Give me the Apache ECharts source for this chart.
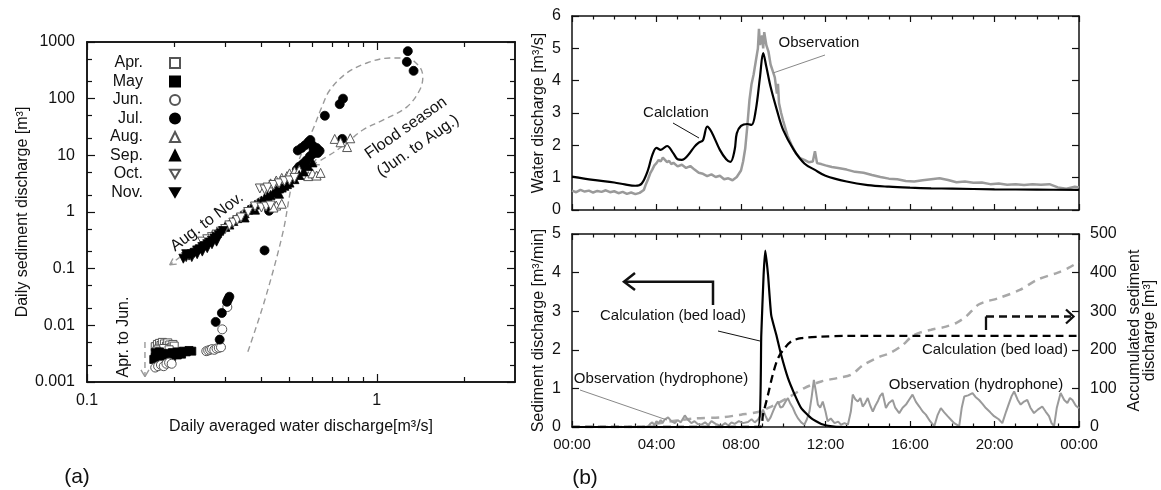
<!DOCTYPE html>
<html><head><meta charset="utf-8">
<script src="https://cdn.jsdelivr.net/npm/echarts@6/dist/echarts.min.js"></script>
<style>html,body{margin:0;padding:0;background:#fff}#c{width:1161px;height:490px}</style>
</head><body><div id="c"></div>
<script>
// ---------- Panel (a): daily sediment vs water discharge ----------
const monthNames = ['Apr.','May','Jun.','Jul.','Aug.','Sep.','Oct.','Nov.'];
const aprPoints = [[0.172,0.0042],[0.175,0.0046],[0.178,0.0048],[0.18,0.0044],[0.182,0.005],[0.185,0.0047],[0.188,0.0043],[0.19,0.0049],[0.193,0.0045],[0.196,0.0041],[0.198,0.0046],[0.2,0.0043],[0.176,0.0038],[0.184,0.0039],[0.192,0.0037],[0.174,0.0035]];
const mayPoints = [[0.17,0.0025],[0.172,0.0027],[0.175,0.0026],[0.177,0.003],[0.18,0.0028],[0.183,0.0031],[0.186,0.0029],[0.19,0.0032],[0.193,0.003],[0.197,0.0033],[0.2,0.0031],[0.205,0.0034],[0.21,0.0032],[0.215,0.0035],[0.22,0.0034],[0.225,0.0036],[0.23,0.0035],[0.174,0.0023],[0.18,0.0024],[0.188,0.0026],[0.196,0.0028],[0.205,0.003],[0.212,0.0031],[0.172,0.0033],[0.178,0.0034]];
const junPoints = [[0.172,0.0018],[0.176,0.0019],[0.18,0.002],[0.184,0.0019],[0.188,0.0021],[0.192,0.0022],[0.196,0.0021],[0.258,0.0035],[0.262,0.0036],[0.266,0.0037],[0.27,0.0038],[0.275,0.0037],[0.28,0.0039],[0.285,0.004],[0.29,0.0041],[0.293,0.0085],[0.305,0.021]];
const julPoints = [[0.278,0.0115],[0.287,0.0056],[0.292,0.0165],[0.304,0.026],[0.31,0.032],[0.307,0.029],[0.41,0.21],[0.425,1.05],[0.662,50],[0.745,80],[0.765,100],[0.76,19.5],[1.28,690],[1.27,445],[1.34,310],[0.534,12.2],[0.55,13.5],[0.565,15],[0.58,17],[0.59,18.6],[0.6,15],[0.605,13],[0.62,13.5],[0.635,12],[0.625,11],[0.6,10.5],[0.587,9.5],[0.57,8],[0.555,7],[0.54,6.3],[0.53,5.6]];
const augPoints = [[0.27,0.38],[0.28,0.42],[0.3,0.55],[0.32,0.7],[0.43,3.2],[0.45,3.6],[0.47,4.0],[0.49,4.3],[0.5,4.8],[0.52,5.2],[0.54,5.5],[0.56,4.6],[0.58,4.3],[0.6,4.8],[0.62,4.4],[0.64,4.9],[0.716,19.5],[0.75,17],[0.79,14],[0.81,20],[0.45,1.3],[0.47,1.4],[0.44,1.2]];
const sepPoints = [[0.3,0.55],[0.31,0.6],[0.32,0.7],[0.33,0.78],[0.34,0.85],[0.35,0.95],[0.36,1.1],[0.37,1.2],[0.38,1.35],[0.39,1.45],[0.4,1.6],[0.41,1.75],[0.42,1.9],[0.43,2.0],[0.44,2.2],[0.45,2.4],[0.46,2.6],[0.47,2.7],[0.48,2.9],[0.49,3.1],[0.5,3.3],[0.52,3.8],[0.54,4.5],[0.56,5.2],[0.58,6.5],[0.6,7.5],[0.35,0.8],[0.38,1.1],[0.42,1.5],[0.46,2.1]];
const octPoints = [[0.25,0.3],[0.26,0.33],[0.27,0.36],[0.28,0.4],[0.29,0.45],[0.3,0.5],[0.31,0.58],[0.32,0.65],[0.33,0.72],[0.34,0.8],[0.36,1.0],[0.38,1.25],[0.4,1.2],[0.415,1.25],[0.43,1.3],[0.395,2.6],[0.41,2.5],[0.42,2.7],[0.44,3.0],[0.46,3.2],[0.48,3.5],[0.5,3.6],[0.52,4.0]];
const novPoints = [[0.215,0.15],[0.22,0.16],[0.225,0.17],[0.23,0.18],[0.235,0.19],[0.24,0.21],[0.245,0.22],[0.25,0.24],[0.255,0.25],[0.26,0.27],[0.265,0.29],[0.27,0.31],[0.275,0.34],[0.28,0.36],[0.285,0.39],[0.29,0.42],[0.295,0.46],[0.22,0.18],[0.23,0.16],[0.24,0.18],[0.25,0.2],[0.26,0.23],[0.27,0.27],[0.28,0.3]];
// annotation paths (data coords)
const floodLoopPath = [[0.359,0.00341],[0.411,0.0282],[0.474,0.428],[0.513,3.68],[0.556,12.4],[0.601,28],[0.646,71],[0.689,142],[0.788,284],[0.924,426],[1.109,522],[1.269,522],[1.407,362],[1.442,241],[1.407,142],[1.269,71],[1.05,42],[0.895,28],[0.788,16.6],[0.705,11],[0.601,6.8]];
const floodArrowHead = [[0.636,6.8],[0.601,6.8],[0.618,8.6]];
const augNovPath = [[0.513,4.9],[0.193,0.117]];
const augNovArrowHead = [[0.204,0.1205],[0.193,0.117],[0.198,0.151]];
const aprJunPath = [[0.1585,0.0051],[0.1585,0.00124]];
const aprJunArrowHead = [[0.1535,0.00164],[0.1585,0.00124],[0.1636,0.00164]];
const xLogLabels = [0.1, 1];
const xLogMinor = [0.2,0.3,0.4,0.5,0.6,0.7,0.8,0.9,2];
const yLogLabels = [0.001,0.01,0.1,1,10,100,1000];
const yLogMinor = [0.002,0.005,0.02,0.05,0.2,0.5,2,5,20,50,200,500];

// ---------- Panel (b) ----------
const waterCalc = [[0,1.03],[1,0.93],[2,0.85],[2.5,0.79],[3,0.75],[3.3,0.82],[3.6,1.24],[3.8,1.70],[4.0,1.92],[4.2,1.86],[4.5,1.98],[4.8,1.75],[5.0,1.57],[5.2,1.55],[5.5,1.70],[5.8,1.96],[6.0,2.08],[6.2,2.16],[6.4,2.58],[6.6,2.42],[7.0,1.86],[7.3,1.57],[7.5,1.49],[7.7,1.86],[7.8,2.37],[8.0,2.60],[8.3,2.66],[8.5,2.63],[8.7,3.09],[8.9,4.12],[9.05,4.85],[9.2,4.43],[9.4,3.81],[9.7,3.09],[10.0,2.47],[10.5,1.86],[11.0,1.44],[11.5,1.24],[12,1.06],[13,0.88],[14,0.77],[15,0.72],[16,0.69],[17,0.67],[18,0.66],[20,0.64],[22,0.63],[24,0.62]];
const waterObs = [[0,0.60],[0.2,0.55],[0.4,0.62],[0.6,0.57],[0.8,0.60],[1.0,0.54],[1.2,0.59],[1.4,0.56],[1.6,0.61],[1.8,0.55],[2.0,0.58],[2.2,0.52],[2.4,0.56],[2.6,0.50],[2.8,0.54],[3.0,0.49],[3.2,0.53],[3.4,0.62],[3.5,0.80],[3.6,0.95],[3.7,1.13],[3.8,1.25],[3.9,1.38],[4.0,1.45],[4.1,1.55],[4.2,1.50],[4.3,1.62],[4.4,1.55],[4.5,1.48],[4.6,1.52],[4.7,1.42],[4.8,1.46],[5.0,1.35],[5.2,1.40],[5.4,1.30],[5.6,1.36],[5.8,1.25],[6.0,1.15],[6.2,1.12],[6.4,1.05],[6.6,1.10],[6.8,1.02],[7.0,1.06],[7.2,0.95],[7.4,0.98],[7.6,0.92],[7.8,1.02],[8.0,1.22],[8.1,1.5],[8.2,1.9],[8.3,2.6],[8.4,3.4],[8.5,3.9],[8.6,4.2],[8.7,4.6],[8.8,5.0],[8.85,5.6],[8.9,5.1],[9.0,5.4],[9.05,5.0],[9.1,5.5],[9.2,5.1],[9.3,4.9],[9.4,4.5],[9.5,4.3],[9.6,4.1],[9.7,3.6],[9.75,3.9],[9.8,3.3],[9.9,3.0],[10.0,2.75],[10.2,2.3],[10.4,2.0],[10.6,1.75],[10.8,1.6],[11.0,1.55],[11.2,1.48],[11.4,1.5],[11.5,1.82],[11.6,1.45],[11.8,1.42],[12.0,1.38],[12.3,1.33],[12.6,1.30],[13.0,1.25],[13.4,1.18],[13.8,1.15],[14.2,1.08],[14.6,1.02],[15.0,0.97],[15.4,0.95],[15.8,0.90],[16.2,0.88],[16.6,0.92],[17.0,0.95],[17.4,0.98],[17.8,0.93],[18.2,0.86],[18.6,0.88],[19.0,0.84],[19.4,0.85],[19.8,0.80],[20.2,0.82],[20.6,0.78],[21.0,0.80],[21.4,0.77],[21.8,0.80],[22.2,0.78],[22.6,0.80],[23.0,0.70],[23.4,0.66],[23.8,0.72],[24.0,0.70]];
const bedLoadCalc = [[0,0],[8.8,0],[8.96,2.39],[9.07,3.94],[9.15,4.57],[9.28,3.94],[9.43,2.9],[9.67,2.39],[9.9,1.87],[10.22,1.27],[10.54,0.84],[10.85,0.49],[11.32,0.23],[11.8,0.08],[12.4,0.01],[13,0],[24,0]];
const hydrophoneObs = [[0,0],[3.6,0],[3.7,0.08],[3.8,0.12],[3.9,0.05],[4.0,0.15],[4.1,0.1],[4.2,0.18],[4.3,0.12],[4.4,0.2],[4.55,0.25],[4.7,0.15],[4.87,0.1],[5.0,0.18],[5.15,0.12],[5.34,0.3],[5.5,0.18],[5.65,0.1],[5.8,0.15],[5.95,0.08],[6.13,0.06],[6.3,0.12],[6.45,0.05],[6.6,0.15],[6.8,0.08],[7.07,0.03],[7.25,0.1],[7.4,0.04],[7.55,0.12],[7.7,0.08],[7.9,0.15],[8.1,0.1],[8.33,0.13],[8.5,0.2],[8.65,0.12],[8.8,0.19],[8.92,0.3],[9.04,0.45],[9.15,0.3],[9.28,0.15],[9.4,0.25],[9.51,0.4],[9.63,0.55],[9.75,0.66],[9.87,0.5],[9.98,0.53],[10.1,0.65],[10.22,0.75],[10.34,0.6],[10.46,0.49],[10.57,0.35],[10.69,0.23],[10.85,0.12],[11.0,0.06],[11.12,0.2],[11.24,0.4],[11.35,0.8],[11.45,1.22],[11.55,0.9],[11.64,0.58],[11.75,0.5],[11.87,0.66],[12.0,0.4],[12.1,0.15],[12.25,0.22],[12.43,0.1],[12.6,0.14],[12.74,0.06],[12.9,0.1],[13.06,0.06],[13.2,0.4],[13.29,0.84],[13.41,0.72],[13.53,0.66],[13.65,0.75],[13.76,0.53],[13.88,0.62],[14.0,0.75],[14.12,0.55],[14.24,0.4],[14.36,0.55],[14.47,0.66],[14.58,0.8],[14.7,0.88],[14.86,0.49],[15.0,0.62],[15.18,0.7],[15.3,0.5],[15.49,0.36],[15.65,0.5],[15.81,0.58],[15.95,0.7],[16.12,0.84],[16.28,0.65],[16.44,0.53],[16.6,0.4],[16.75,0.32],[16.95,0.15],[17.15,0.02],[17.3,0.3],[17.46,0.49],[17.62,0.38],[17.78,0.28],[17.95,0.18],[18.09,0.1],[18.33,0.02],[18.45,0.5],[18.57,0.79],[18.75,0.82],[18.96,0.88],[19.1,0.78],[19.27,0.7],[19.43,0.6],[19.59,0.49],[19.8,0.38],[19.98,0.28],[20.2,0.2],[20.37,0.1],[20.55,0.4],[20.69,0.62],[20.81,0.8],[20.93,0.92],[21.1,0.7],[21.24,0.58],[21.4,0.66],[21.55,0.7],[21.7,0.5],[21.87,0.36],[22.05,0.45],[22.26,0.53],[22.42,0.4],[22.58,0.28],[22.7,0.1],[22.82,0.02],[22.95,0.5],[23.13,0.88],[23.3,0.7],[23.45,0.62],[23.57,0.75],[23.69,0.7],[23.85,0.55],[24,0.49]];
const accumCalc = [[0,0],[8.9,0],[9.04,32],[9.28,84],[9.5,135],[9.75,178],[10.06,204],[10.38,222],[10.85,230],[11.8,234],[13,236],[24,236]];
const accumObs = [[0,0],[3.5,0],[3.76,6],[4.7,15],[5.8,22],[7.07,25],[8.0,32],[8.8,39],[9.43,53],[10.2,75],[11.0,101],[11.8,118],[12.58,127],[13.2,135],[13.8,161],[14.6,183],[15.0,190],[15.6,210],[16.1,235],[16.5,245],[17.0,252],[17.7,260],[18.2,270],[18.65,286],[19.27,318],[20.2,334],[21.2,355],[22.0,381],[23.0,400],[23.5,412],[24,428]];

const FONT = "'Liberation Sans', Arial, sans-serif";
const BLK = '#111';
const chart = echarts.init(document.getElementById('c'), null, {renderer:'canvas'});

function logFmt(v){ return String(+Number(v).toPrecision(3)); }
function hourFmt(v){ const h = Math.round(v) % 24; return (h<10?'0':'') + h + ':00'; }

const lineAx = {show:true, onZero:false, lineStyle:{color:BLK, width:1.5}};
function logAxis(extra){ return Object.assign({type:'log', logBase:10, splitLine:{show:false}, axisLine:lineAx}, extra); }

const xAxes = [
  logAxis({gridIndex:0, position:'bottom', min:0.1, max:3,
    axisTick:{inside:true, length:8, customValues:xLogLabels, lineStyle:{color:BLK,width:1.2}},
    axisLabel:{customValues:xLogLabels, formatter:logFmt, fontSize:16, color:BLK, fontFamily:FONT, margin:11},
    name:'Daily averaged water discharge[m³/s]', nameLocation:'middle', nameGap:37,
    nameTextStyle:{fontSize:16, color:BLK, fontFamily:FONT}}),
  logAxis({gridIndex:0, position:'bottom', min:0.1, max:3,
    axisTick:{inside:true, length:5, customValues:xLogMinor, lineStyle:{color:BLK,width:1.2}}, axisLabel:{show:false}}),
  logAxis({gridIndex:0, position:'top', min:0.1, max:3,
    axisTick:{inside:true, length:8, customValues:xLogLabels, lineStyle:{color:BLK,width:1.2}}, axisLabel:{show:false}}),
  logAxis({gridIndex:0, position:'top', min:0.1, max:3,
    axisTick:{inside:true, length:5, customValues:xLogMinor, lineStyle:{color:BLK,width:1.2}}, axisLabel:{show:false}})
];
const yAxes = [
  logAxis({gridIndex:0, position:'left', min:0.001, max:1000,
    axisTick:{inside:true, length:8, customValues:yLogLabels, lineStyle:{color:BLK,width:1.2}},
    axisLabel:{customValues:yLogLabels, formatter:logFmt, fontSize:16, color:BLK, fontFamily:FONT, margin:12},
    name:'Daily sediment discharge [m³]', nameLocation:'middle', nameGap:52,
    nameTextStyle:{fontSize:16, color:BLK, fontFamily:FONT}}),
  logAxis({gridIndex:0, position:'left', min:0.001, max:1000,
    axisTick:{inside:true, length:5, customValues:yLogMinor, lineStyle:{color:BLK,width:1.2}}, axisLabel:{show:false}}),
  logAxis({gridIndex:0, position:'right', min:0.001, max:1000,
    axisTick:{inside:true, length:8, customValues:yLogLabels, lineStyle:{color:BLK,width:1.2}}, axisLabel:{show:false}}),
  logAxis({gridIndex:0, position:'right', min:0.001, max:1000,
    axisTick:{inside:true, length:5, customValues:yLogMinor, lineStyle:{color:BLK,width:1.2}}, axisLabel:{show:false}})
];
function timeAxis(grid, pos, labels){
  return {type:'value', gridIndex:grid, position:pos, min:0, max:24, interval:4,
    splitLine:{show:false}, axisLine:lineAx,
    axisTick:{inside:true, length:6, lineStyle:{color:BLK,width:1.2}},
    minorTick:{show:true, splitNumber:4, length:3.5, lineStyle:{color:BLK,width:1.2}},
    axisLabel: labels ? {formatter:hourFmt, fontSize:15, color:BLK, fontFamily:FONT, margin:10} : {show:false}};
}
xAxes.push(timeAxis(1,'bottom',false), timeAxis(1,'top',false), timeAxis(2,'bottom',true), timeAxis(2,'top',false));
function valAxis(grid, pos, max, interval, labels, name, gap){
  const a = {type:'value', gridIndex:grid, position:pos, min:0, max:max, interval:interval,
    splitLine:{show:false}, axisLine:lineAx,
    axisTick:{inside:true, length:7, lineStyle:{color:BLK,width:1.2}},
    axisLabel: labels ? {fontSize:16, color:BLK, fontFamily:FONT, margin:11} : {show:false}};
  if (name) { a.name = name; a.nameLocation='middle'; a.nameGap=gap; a.nameTextStyle={fontSize:16, color:BLK, fontFamily:FONT, lineHeight:15}; }
  return a;
}
yAxes.push(
  valAxis(1,'left',6,1,true,'Water discharge [m³/s]',26),
  valAxis(1,'right',6,1,false),
  valAxis(2,'left',5,1,true,'Sediment discharge [m³/min]',26),
  valAxis(2,'right',500,100,true,'Accumulated sediment\ndischarge [m³]',48)
);

function sc(name, data, symbol, fill, rot){
  return {type:'scatter', name:name, xAxisIndex:0, yAxisIndex:0, data:data, symbol:symbol,
    symbolSize: symbol==='rect'?8:9, symbolRotate: rot||0,
    itemStyle: fill ? {color:'#000', borderColor:'#000', borderWidth:0.8, opacity:1} : {color:'#fff', borderColor:'#555', borderWidth:1, opacity:1}};
}
function dashLine(data, smooth, xi, yi, color, w, dash){
  return {type:'line', data:data, xAxisIndex:xi, yAxisIndex:yi, smooth:smooth, symbol:'none', silent:true,
    lineStyle:{color:color, width:w, type:dash}, z:1};
}
const gDash = [6,4];
const series = [
  dashLine(floodLoopPath, 0.35, 0,0,'#999',1.4,gDash),
  dashLine(floodArrowHead, false, 0,0,'#999',1.4,'solid'),
  dashLine(augNovPath, false, 0,0,'#999',1.4,gDash),
  dashLine(augNovArrowHead, false, 0,0,'#999',1.4,'solid'),
  dashLine(aprJunPath, false, 0,0,'#999',1.4,gDash),
  dashLine(aprJunArrowHead, false, 0,0,'#999',1.4,'solid'),
  sc('Apr.', aprPoints, 'rect', false),
  sc('May', mayPoints, 'rect', true),
  sc('Jun.', junPoints, 'circle', false),
  sc('Jul.', julPoints, 'circle', true),
  sc('Aug.', augPoints, 'triangle', false),
  sc('Sep.', sepPoints, 'triangle', true),
  sc('Oct.', octPoints, 'triangle', false, 180),
  sc('Nov.', novPoints, 'triangle', true, 180),
  {type:'line', data:waterObs, xAxisIndex:4, yAxisIndex:4, symbol:'none', lineStyle:{color:'#9a9a9a', width:2.5}},
  {type:'line', data:waterCalc, xAxisIndex:4, yAxisIndex:4, symbol:'none', smooth:0.35, lineStyle:{color:'#000', width:2.2}},
  {type:'line', data:accumObs, xAxisIndex:6, yAxisIndex:7, symbol:'none', smooth:0.3, lineStyle:{color:'#a8a8a8', width:2.5, type:[8,6]}},
  {type:'line', data:hydrophoneObs, xAxisIndex:6, yAxisIndex:6, symbol:'none', lineStyle:{color:'#9a9a9a', width:2}},
  {type:'line', data:accumCalc, xAxisIndex:6, yAxisIndex:7, symbol:'none', smooth:0.3, lineStyle:{color:'#000', width:2.3, type:[8,5]}},
  {type:'line', data:bedLoadCalc, xAxisIndex:6, yAxisIndex:6, symbol:'none', smooth:0.15, lineStyle:{color:'#000', width:2.2}}
];

function T(x, y, s, size, rotDeg, extra){
  return Object.assign({type:'text', x:x, y:y, rotation:(rotDeg||0)*Math.PI/180, z:100,
    style:{text:s, fill:BLK, font:(size||15)+'px '+FONT, align:'center', verticalAlign:'middle', textAlign:'center', textVerticalAlign:'middle'}}, extra||{});
}
function P(points, color, w, dash){
  return {type:'polyline', z:100, shape:{points:points}, style:{stroke:color, lineWidth:w, fill:null, lineDash:dash||null}};
}
const graphics = [
  T(207,222,'Aug. to Nov.',16,37),
  T(406,128,'Flood season',16,35),
  T(418,146,'(Jun. to Aug.)',16,35),
  T(124,337,'Apr. to Jun.',16,90),
  T(77,477,'(a)',21),
  T(585,478,'(b)',21),
  T(676,113,'Calclation',15),
  P([[673,123],[699,138]], BLK, 1),
  T(819,43,'Observation',15),
  P([[825,55],[773,73]], '#888', 1),
  P([[713,305],[713,281.7],[624,281.7]], BLK, 2.5),
  P([[635,273],[624,281.7],[635,290]], BLK, 2.5),
  T(673,316,'Calculation (bed load)',15),
  P([[718,331],[760,341]], BLK, 1),
  T(661,379,'Observation (hydrophone)',15),
  P([[580,390],[667,420]], '#888', 1),
  T(995,350,'Calculation (bed load)',15),
  T(976,385,'Observation (hydrophone)',15),
  P([[986,330],[986,316.5]], BLK, 2.3),
  P([[986,316.5],[1071,316.5]], BLK, 2.3, [8,5]),
  P([[1066,309.5],[1073.5,316.5],[1066,323.5]], BLK, 2.3)
];

const downTri = 'path://M0,0L10,0L5,8.66Z';
const legendData = monthNames.map(function(n){
  return (n === 'Oct.' || n === 'Nov.') ? {name:n, icon:downTri} : {name:n};
});

chart.setOption({
  animation:false,
  backgroundColor:'#fff',
  textStyle:{fontFamily:FONT},
  grid:[
    {left:87, top:42, width:428, height:340},
    {left:572, top:16, width:507, height:194},
    {left:572, top:234, width:507, height:193}
  ],
  legend:{data:legendData, orient:'vertical', align:'right', right:975, top:50,
    itemWidth:10, itemHeight:10, itemGap:2.5, selectedMode:false,
    itemStyle:{opacity:1},
    textStyle:{fontSize:16, color:BLK, fontFamily:FONT, lineHeight:16, padding:[0,22,0,0]}},
  xAxis:xAxes,
  yAxis:yAxes,
  series:series,
  graphic:graphics
});
</script></body></html>
